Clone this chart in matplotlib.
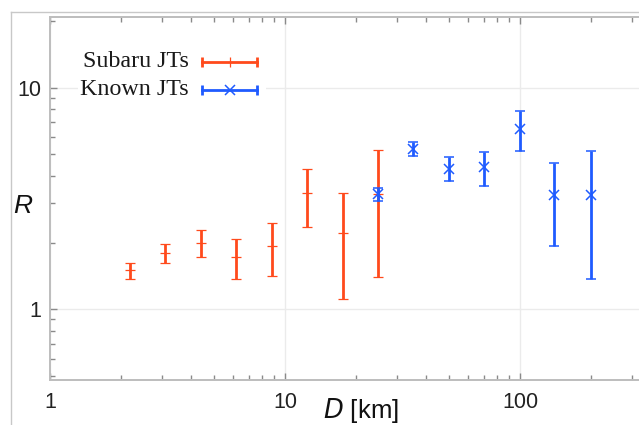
import numpy as np
import matplotlib
matplotlib.use("Agg")
import matplotlib.pyplot as plt
from matplotlib.lines import Line2D
from matplotlib.patches import Rectangle

# values
subaru_D = [2.2, 3.1, 4.4, 6.2, 8.8, 12.4, 17.6, 24.9]
subaru_R = [1.50, 1.80, 2.00, 1.72, 1.93, 3.34, 2.21, 3.30]
subaru_lo = [1.37, 1.61, 1.73, 1.37, 1.41, 2.36, 1.11, 1.40]
subaru_hi = [1.61, 1.97, 2.27, 2.07, 2.45, 4.30, 3.34, 5.24]

known_D = [25, 35, 50, 70, 100, 140, 200]
known_R = [3.30, 5.28, 4.29, 4.36, 6.50, 3.28, 3.28]
known_lo = [3.08, 4.92, 3.77, 3.58, 5.19, 1.93, 1.37]
known_hi = [3.52, 5.71, 4.84, 5.12, 7.87, 4.59, 5.15]

orange = '#ff4a1c'
blue = '#1f5bff'
spine_col = '#bdbdbd'
tick_col = '#8a8a8a'

plt.rcParams['font.family'] = ['Liberation Sans', 'DejaVu Sans']

W, H = 639, 425
fig = plt.figure(figsize=(W / 100, H / 100), dpi=100)
ax = fig.add_axes([50 / W, (H - 380) / H, 589 / W, 363 / H])

def errs(r, lo, hi):
    r = np.array(r)
    return [r - np.array(lo), np.array(hi) - r]

ax.errorbar(subaru_D, subaru_R, yerr=errs(subaru_R, subaru_lo, subaru_hi),
            fmt='_', color=orange, ms=7, mew=0.9, elinewidth=2.0,
            capsize=3.3, capthick=2.0, zorder=3)
ax.errorbar(known_D, known_R, yerr=errs(known_R, known_lo, known_hi),
            fmt='x', color=blue, ms=6.5, mew=1.1, elinewidth=2.0,
            capsize=3.3, capthick=2.0, zorder=4)

ax.set_xscale('log')
ax.set_yscale('log')
ax.set_xlim(1, 321)
ax.set_ylim(0.48, 20.8)

ax.set_xticks([1, 10, 100])
ax.set_xticklabels(['1', '10', '100'])
ax.set_yticks([1, 10])
ax.set_yticklabels(['1', '10'])
ax.minorticks_on()
ax.yaxis.set_minor_formatter(matplotlib.ticker.NullFormatter())
ax.xaxis.set_minor_formatter(matplotlib.ticker.NullFormatter())

ax.grid(which='major', color='#ebebeb', lw=1.0, zorder=0)
ax.set_axisbelow(True)

for s in ['left', 'bottom', 'top']:
    ax.spines[s].set_color(spine_col)
    ax.spines[s].set_linewidth(1.4)
ax.spines['right'].set_visible(False)

ax.tick_params(which='both', direction='in', top=True, right=False,
               color=tick_col, width=1.0, labelsize=15.5, labelcolor='#222222')
ax.tick_params(which='major', length=5)
ax.tick_params(which='minor', length=3.5)
ax.tick_params(axis='x', which='major', pad=9)
ax.tick_params(axis='y', which='major', pad=6)

ax.text(-0.047, 0.48, 'R', transform=ax.transAxes, fontsize=19,
        style='italic', ha='center', va='center', color='#111111')
ax.text(0.528, -0.085, r'$\mathit{D}$ [km]', transform=ax.transAxes,
        fontsize=18.5, ha='center', va='center', color='#111111')

# legend box drawn by hand, Mathematica style
ax.add_patch(Rectangle((0.0475, 0.758), 0.32, 0.165, transform=ax.transAxes,
                       facecolor='white', edgecolor='none', zorder=2))
for yy, lab, col, mk, ms, mew in [(0.877, 'Subaru JTs', orange, '|', 7, 0.9),
                                   (0.799, 'Known JTs', blue, 'x', 6.5, 1.1)]:
    ax.plot([0.258, 0.351], [yy, yy], color=col, lw=2.0,
            transform=ax.transAxes, clip_on=False, zorder=5)
    ax.plot([0.258, 0.351], [yy, yy], ls='none', marker='|', ms=7, mew=2.0,
            color=col, transform=ax.transAxes, clip_on=False, zorder=5)
    ax.plot([0.3056], [yy], ls='none', marker=mk, ms=ms, mew=mew,
            color=col, transform=ax.transAxes, clip_on=False, zorder=5)
    ax.text(0.236, yy, lab, transform=ax.transAxes, ha='right', va='center',
            fontsize=17.3, family=['Liberation Serif', 'DejaVu Serif'],
            color='#1a1a1a', zorder=5)

# outer frame lines from the cropped picture
fig.add_artist(Line2D([11 / W, 11 / W], [0, 1 - 12 / H], color='#c8c8c8', lw=1))
fig.add_artist(Line2D([11 / W, 1], [1 - 12 / H, 1 - 12 / H], color='#c8c8c8', lw=1))

fig.savefig('out.png', dpi=100)
